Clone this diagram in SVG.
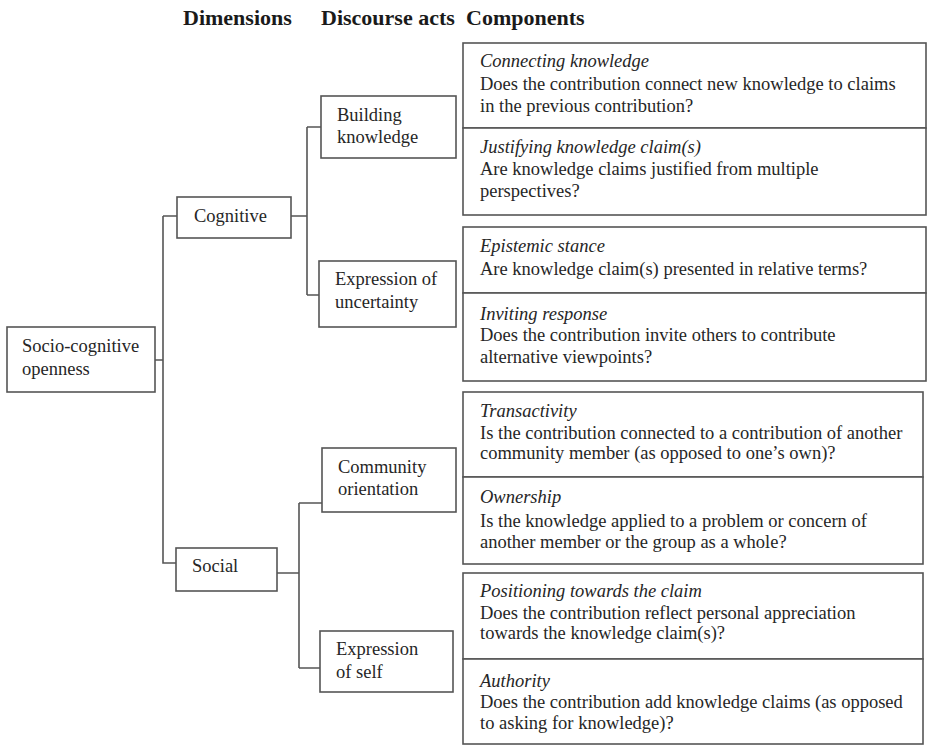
<svg xmlns="http://www.w3.org/2000/svg" width="927" height="745" viewBox="0 0 927 745">
<style>
.box{fill:#fff;stroke:#555;stroke-width:1.6}
.ln{fill:none;stroke:#555;stroke-width:1.6}
text{font-size:18.5px;fill:#262626}
.h{font-weight:bold;font-size:22px;fill:#1a1a1a}
.i{font-style:italic}
</style>
<rect width="927" height="745" fill="#fff"/>
<g id="headers" font-family="Liberation Serif">
<text class="h" x="183" y="25">Dimensions</text>
<text class="h" x="321" y="25">Discourse acts</text>
<text class="h" x="466" y="25">Components</text>
</g>
<g id="connectors">
<path class="ln" d="M155 360H163M163 216V563H176M163 216H177"/>
<path class="ln" d="M291 216H307M307 127V295M307 127H321M307 295H319"/>
<path class="ln" d="M277 573H299M299 503V668M299 503H322M299 668H320"/>
</g>
<g id="n-socio" font-family="Liberation Serif"><rect class="box" x="7" y="327" width="148" height="65"/><text x="22" y="352">Socio-cognitive</text><text x="22" y="375">openness</text></g>
<g id="n-cognitive" font-family="Liberation Serif"><rect class="box" x="177" y="197" width="114" height="41"/><text x="194" y="222">Cognitive</text></g>
<g id="n-social" font-family="Liberation Serif"><rect class="box" x="176" y="548" width="101" height="43"/><text x="192" y="572">Social</text></g>
<g id="n-building" font-family="Liberation Serif"><rect class="box" x="321" y="96" width="135" height="62"/><text x="337" y="121">Building</text><text x="337" y="143">knowledge</text></g>
<g id="n-uncertainty" font-family="Liberation Serif"><rect class="box" x="319" y="261" width="137" height="66"/><text x="335" y="285">Expression of</text><text x="335" y="308">uncertainty</text></g>
<g id="n-community" font-family="Liberation Serif"><rect class="box" x="322" y="448" width="134" height="64"/><text x="338" y="473">Community</text><text x="338" y="495">orientation</text></g>
<g id="n-self" font-family="Liberation Serif"><rect class="box" x="320" y="631" width="133" height="61"/><text x="336" y="655">Expression</text><text x="336" y="678">of self</text></g>
<g id="c-connecting" font-family="Liberation Serif"><rect class="box" x="463" y="43" width="463" height="85"/><text class="i" x="480" y="67">Connecting knowledge</text><text x="480" y="90">Does the contribution connect new knowledge to claims</text><text x="480" y="112">in the previous contribution?</text></g>
<g id="c-justifying" font-family="Liberation Serif"><rect class="box" x="463" y="128" width="463" height="87"/><text class="i" x="480" y="153">Justifying knowledge claim(s)</text><text x="480" y="175">Are knowledge claims justified from multiple</text><text x="480" y="197">perspectives?</text></g>
<g id="c-epistemic" font-family="Liberation Serif"><rect class="box" x="463" y="227" width="463" height="66"/><text class="i" x="480" y="252">Epistemic stance</text><text x="480" y="275">Are knowledge claim(s) presented in relative terms?</text></g>
<g id="c-inviting" font-family="Liberation Serif"><rect class="box" x="463" y="293" width="463" height="88"/><text class="i" x="480" y="320">Inviting response</text><text x="480" y="341">Does the contribution invite others to contribute</text><text x="480" y="363">alternative viewpoints?</text></g>
<g id="c-transactivity" font-family="Liberation Serif"><rect class="box" x="463" y="392" width="460" height="85"/><text class="i" x="480" y="417">Transactivity</text><text x="480" y="439">Is the contribution connected to a contribution of another</text><text x="480" y="459">community member (as opposed to one’s own)?</text></g>
<g id="c-ownership" font-family="Liberation Serif"><rect class="box" x="463" y="477" width="460" height="87"/><text class="i" x="480" y="503">Ownership</text><text x="480" y="527">Is the knowledge applied to a problem or concern of</text><text x="480" y="548">another member or the group as a whole?</text></g>
<g id="c-positioning" font-family="Liberation Serif"><rect class="box" x="463" y="573" width="460" height="86"/><text class="i" x="480" y="597">Positioning towards the claim</text><text x="480" y="619">Does the contribution reflect personal appreciation</text><text x="480" y="639">towards the knowledge claim(s)?</text></g>
<g id="c-authority" font-family="Liberation Serif"><rect class="box" x="463" y="659" width="460" height="85"/><text class="i" x="480" y="687">Authority</text><text x="480" y="708">Does the contribution add knowledge claims (as opposed</text><text x="480" y="729">to asking for knowledge)?</text></g>
</svg>
